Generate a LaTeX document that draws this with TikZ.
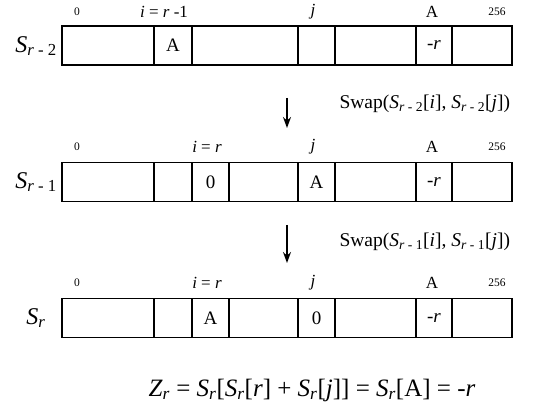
\documentclass[tikz,border=0pt]{standalone}
\usepackage{fontspec}
\setmainfont{Liberation Serif}
\usetikzlibrary{arrows.meta}
\newcommand{\itx}[1]{\textit{#1}}
\newcommand{\Ssub}[1]{\textit{S}\textsubscript{#1}}

\begin{document}
\begin{tikzpicture}[x=1pt, y=-1pt, >={Stealth[length=11pt, width=8pt]},
    cell/.style={draw, line width=1.7pt, minimum height=39pt, inner sep=0pt,
      font=\fontsize{19}{19}\selectfont},
    idx/.style={font=\fontsize{17}{17}\selectfont},
    num/.style={font=\fontsize{11.5}{12}\selectfont},
    state/.style={font=\fontsize{24}{24}\selectfont},
    swaplbl/.style={anchor=west, font=\fontsize{19.5}{20}\selectfont}]
  \useasboundingbox (0, 0) rectangle (555, 414);

  % row S_{r-2}
  \foreach \a/\b/\t [count=\k] in {62/154/{}, 154/192/A, 192/298/{}, 298/335/{},
      335/416/{}, 416/452/{-\itx{r}}, 452/512/{}}
    \node[cell, minimum width=\b pt-\a pt] (ra-\k) at ({(\a+\b)/2}, 45.5) {\t};
  \node[state] (sa) at (36, 46) {\Ssub{\itx{r} - 2}};
  \node[num] (ia0) at (77, 12) {0};
  \node[idx] (iai) at (164, 12) {\itx{i} = \itx{r} -1};
  \node[idx] (iaj) at (313, 12) {\itx{j}};
  \node[idx] (iaA) at (432, 12) {A};
  \node[num] (ia256) at (497, 12) {256};

  % row S_{r-1}
  \foreach \a/\b/\t [count=\k] in {62/154/{}, 154/192/{}, 192/229/0, 229/298/{},
      298/335/A, 335/416/{}, 416/452/{-\itx{r}}, 452/512/{}}
    \node[cell, minimum width=\b pt-\a pt] (rb-\k) at ({(\a+\b)/2}, 182) {\t};
  \node[state] (sb) at (36, 182) {\Ssub{\itx{r} - 1}};
  \node[num] (ib0) at (77, 147) {0};
  \node[idx] (ibi) at (207, 147) {\itx{i} = \itx{r}};
  \node[idx] (ibj) at (313, 147) {\itx{j}};
  \node[idx] (ibA) at (432, 147) {A};
  \node[num] (ib256) at (497, 147) {256};

  % row S_r
  \foreach \a/\b/\t [count=\k] in {62/154/{}, 154/192/{}, 192/229/A, 229/298/{},
      298/335/0, 335/416/{}, 416/452/{-\itx{r}}, 452/512/{}}
    \node[cell, minimum width=\b pt-\a pt] (rc-\k) at ({(\a+\b)/2}, 318) {\t};
  \node[state] (sc) at (36, 318) {\Ssub{\itx{r}}};
  \node[num] (ic0) at (77, 283) {0};
  \node[idx] (ici) at (207, 283) {\itx{i} = \itx{r}};
  \node[idx] (icj) at (313, 283) {\itx{j}};
  \node[idx] (icA) at (432, 283) {A};
  \node[num] (ic256) at (497, 283) {256};

  % swaps
  \coordinate (sw1a) at (287, 98);
  \coordinate (sw1b) at (287, 128);
  \coordinate (sw2a) at (287, 225);
  \coordinate (sw2b) at (287, 263);
  \draw[->, line width=1.5pt] (sw1a) -- (sw1b);
  \draw[->, line width=1.5pt] (sw2a) -- (sw2b);
  \node[swaplbl] (swl1) at (336, 104)
    {Swap(\Ssub{\itx{r} - 2}[\itx{i}], \Ssub{\itx{r} - 2}[\itx{j}])};
  \node[swaplbl] (swl2) at (336, 242)
    {Swap(\Ssub{\itx{r} - 1}[\itx{i}], \Ssub{\itx{r} - 1}[\itx{j}])};

  \node[font=\fontsize{25}{25}\selectfont] (zr) at (312, 390)
    {\itx{Z}\textsubscript{\itx{r}} = \Ssub{\itx{r}}[\Ssub{\itx{r}}[\itx{r}] + \Ssub{\itx{r}}[\itx{j}]] = \Ssub{\itx{r}}[A] = -\itx{r}};
\end{tikzpicture}
\end{document}
